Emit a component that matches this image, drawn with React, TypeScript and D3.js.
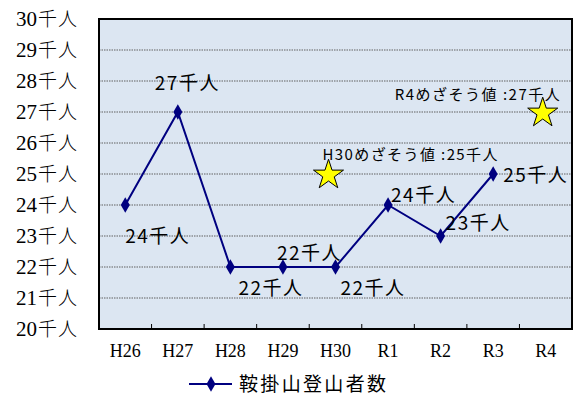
import React from "react";
import * as d3 from "d3";

const categories = ["H26", "H27", "H28", "H29", "H30", "R1", "R2", "R3", "R4"];
const climbers: (number | null)[] = [24, 27, 22, 22, 22, 24, 23, 25, null];
const yTicks = [20, 21, 22, 23, 24, 25, 26, 27, 28, 29, 30];
const targets = [
  { cat: "H30", value: 25, label: "H30めざそう値 :25千人" },
  { cat: "R4", value: 27, label: "R4めざそう値 :27千人" },
];
const seriesName = "鞍掛山登山者数";
const unit = "千人";

// label placement offsets (layout only)
const labelOffsets: [number, number, string][] = [
  [0, 38, "start"],
  [-23, -22, "start"],
  [8, 28, "start"],
  [-6, -7, "start"],
  [5, 28, "start"],
  [3, -3, "start"],
  [5, -6, "start"],
  [10, 8, "start"],
];

const W = 576, H = 396;
const left = 99, right = 572, top = 19, bottom = 329;

export default function App() {
  const x = d3.scaleBand<string>().domain(categories).range([left, right]).padding(0);
  const y = d3.scaleLinear().domain([20, 30]).range([bottom, top]);
  const cx = (c: string) => (x(c) as number) + x.bandwidth() / 2;

  const pts = categories
    .map((c, i) => ({ c, v: climbers[i], i }))
    .filter((d) => d.v !== null) as { c: string; v: number; i: number }[];

  const line = d3
    .line<{ c: string; v: number }>()
    .x((d) => cx(d.c))
    .y((d) => y(d.v));

  const diamond = d3.symbol().type(d3.symbolDiamond).size(70)();
  const star = d3.symbol().type(d3.symbolStar).size(280)();

  const serif = "'Liberation Serif', 'Times New Roman', serif";
  const sans = "'Noto Sans CJK JP', 'DejaVu Sans', sans-serif";

  return (
    <svg width={W} height={H} style={{ position: "absolute", left: 0, top: 0 }}>
      <rect x={0} y={0} width={W} height={H} fill="#ffffff" />
      <rect x={left} y={top} width={right - left} height={bottom - top} fill="#dce6f2" />
      {yTicks.slice(1, -1).map((t) => (
        <line
          key={t}
          x1={left}
          x2={right}
          y1={y(t)}
          y2={y(t)}
          stroke="#606060"
          strokeWidth={1}
          strokeDasharray="1.5,1"
        />
      ))}
      {categories.slice(1).map((c) => (
        <line
          key={c}
          x1={x(c) as number}
          x2={x(c) as number}
          y1={bottom}
          y2={bottom - 5}
          stroke="#000"
          strokeWidth={1}
        />
      ))}
      <rect
        x={left}
        y={top}
        width={right - left}
        height={bottom - top}
        fill="none"
        stroke="#000"
        strokeWidth={2}
      />
      {yTicks.map((t) => (
        <text key={t} x={78} y={y(t) + 7} textAnchor="end" fill="#000">
          <tspan fontFamily={serif} fontSize={21}>
            {t}
          </tspan>
          <tspan fontFamily={sans} fontSize={19} fontWeight={300} letterSpacing={1} dx={1}>
            {unit}
          </tspan>
        </text>
      ))}
      {categories.map((c) => (
        <text
          key={c}
          x={cx(c)}
          y={357}
          textAnchor="middle"
          fontFamily={serif}
          fontSize={18}
          fill="#000"
        >
          {c}
        </text>
      ))}
      <path d={line(pts) || ""} fill="none" stroke="#000080" strokeWidth={2} />
      {pts.map((d) => (
        <path key={d.c} d={diamond || ""} transform={`translate(${cx(d.c)},${y(d.v)})`} fill="#000080" />
      ))}
      {pts.map((d) => {
        const [dx, dy, anchor] = labelOffsets[d.i];
        return (
          <text
            key={"l" + d.c}
            x={cx(d.c) + dx}
            y={y(d.v) + dy}
            textAnchor={anchor as any}
            fontFamily={sans}
            fontSize={19}
            letterSpacing={1.5}
            fill="#000"
          >
            {d.v}
            {unit}
          </text>
        );
      })}
      {targets.map((t) => (
        <g key={t.cat}>
          <path
            d={star || ""}
            transform={`translate(${cx(t.cat) - (t.cat === "H30" ? 7 : 3)},${y(t.value) + 1})`}
            fill="#ffff00"
            stroke="#000"
            strokeWidth={1}
          />
          <text
            x={cx(t.cat) - (t.cat === "H30" ? 13 : 151)}
            y={y(t.value) - (t.cat === "H30" ? 14 : 12)}
            textLength={t.cat === "H30" ? 175 : 165}
            lengthAdjust="spacing"
            fontFamily={sans}
            fontSize={15}
            fill="#000"
          >
            {t.label}
          </text>
        </g>
      ))}
      <line x1={189} x2={232} y1={384} y2={384} stroke="#000080" strokeWidth={2} />
      <path d={diamond || ""} transform="translate(211,384)" fill="#000080" />
      <text
        x={239}
        y={391}
        textLength={147}
        lengthAdjust="spacing"
        fontFamily={sans}
        fontSize={19}
        fill="#000"
      >
        {seriesName}
      </text>
    </svg>
  );
}
